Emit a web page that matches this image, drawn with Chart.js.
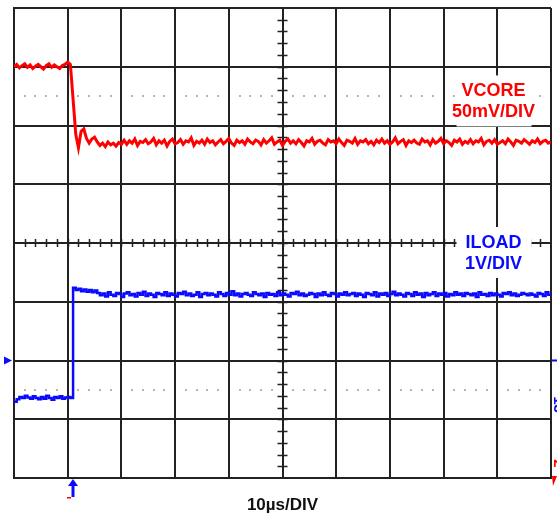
<!DOCTYPE html>
<html>
<head>
<meta charset="utf-8">
<script src="https://cdn.jsdelivr.net/npm/chart.js@4.4.1/dist/chart.umd.min.js"></script>
<style>
  html, body { margin: 0; padding: 0; background: #fff; }
  canvas { display: block; }
</style>
</head>
<body>
<canvas id="scope" width="557" height="517"></canvas>
<script>
// Scope screen: 10 horizontal divisions, 8 vertical divisions (center = 0)
const sampleStep = 0.05; // divisions per sample
const triggerDiv = 1.1;  // trigger marker position (div)

// VCORE trace (div), 50mV/DIV
const vcore = [
  3.00, 3.04, 2.98, 3.02, 3.05, 2.99, 3.03, 2.97, 3.01, 3.04,
  3.00, 2.96, 3.02, 3.05, 2.99, 3.03, 3.00, 2.97, 3.02, 3.04,
  3.08, 3.04, 2.45, 1.85, 1.62, 1.90, 1.94, 1.78, 1.70, 1.77,
  1.80, 1.72, 1.66, 1.70, 1.64, 1.72, 1.67, 1.70, 1.65, 1.71,
  1.68,
  1.75, 1.68, 1.74, 1.70, 1.77, 1.66, 1.73, 1.71, 1.76, 1.69,
  1.72, 1.78, 1.67, 1.74, 1.70, 1.75, 1.65, 1.73, 1.77, 1.69,
  1.71, 1.76, 1.68, 1.74, 1.72, 1.79, 1.66, 1.73, 1.70, 1.75,
  1.68, 1.77, 1.71, 1.74, 1.67, 1.72, 1.76, 1.69, 1.73, 1.78,
  1.70, 1.66, 1.75, 1.71, 1.74, 1.68, 1.77, 1.72, 1.69, 1.75,
  1.73, 1.67, 1.76, 1.70, 1.74, 1.79, 1.68, 1.72, 1.75, 1.66,
  1.73, 1.77, 1.70, 1.74, 1.69, 1.76, 1.71, 1.65, 1.74, 1.72,
  1.78, 1.68, 1.73, 1.75, 1.70, 1.67, 1.76, 1.72, 1.74, 1.69,
  1.77, 1.71, 1.66, 1.75, 1.73, 1.70, 1.78, 1.68, 1.74, 1.72,
  1.76, 1.69, 1.73, 1.67, 1.75, 1.71, 1.77, 1.70, 1.74, 1.68,
  1.72, 1.79, 1.69, 1.73, 1.76, 1.66, 1.74, 1.71, 1.75, 1.70,
  1.68, 1.77, 1.72, 1.74, 1.67, 1.76, 1.70, 1.73, 1.78, 1.69,
  1.74, 1.71, 1.66, 1.75, 1.72, 1.77, 1.68, 1.73, 1.70, 1.76,
  1.69, 1.74, 1.72, 1.78, 1.67, 1.73, 1.75, 1.70, 1.76, 1.68,
  1.71, 1.74, 1.69, 1.77, 1.72, 1.66, 1.75, 1.73, 1.70, 1.76,
  1.72, 1.68, 1.74, 1.71, 1.77, 1.69, 1.73, 1.75, 1.70, 1.72
];

// ILOAD trace (div), 1V/DIV
const iload = [
  -2.70, -2.66, -2.62, -2.64, -2.60, -2.63, -2.65, -2.61, -2.64, -2.66,
  -2.62, -2.65, -2.60, -2.64, -2.67, -2.62, -2.64, -2.61, -2.65, -2.63,
  -2.62, -2.64, -0.76, -0.80, -0.78, -0.82, -0.79, -0.83, -0.80, -0.84,
  -0.81,
  -0.85, -0.89, -0.86, -0.91, -0.84, -0.88, -0.90, -0.85, -0.87, -0.92,
  -0.86, -0.84, -0.89, -0.87, -0.91, -0.85, -0.88, -0.83, -0.90, -0.86,
  -0.88, -0.92, -0.85, -0.87, -0.89, -0.84, -0.90, -0.86, -0.88, -0.91,
  -0.85, -0.87, -0.83, -0.89, -0.86, -0.90, -0.88, -0.84, -0.92, -0.87,
  -0.85, -0.89, -0.86, -0.88, -0.91, -0.84, -0.87, -0.90, -0.85, -0.88,
  -0.82, -0.89, -0.86, -0.91, -0.87, -0.85, -0.88, -0.90, -0.84, -0.87,
  -0.89, -0.86, -0.92, -0.85, -0.88, -0.87, -0.90, -0.84, -0.89, -0.86,
  -0.88, -0.91, -0.85, -0.87, -0.83, -0.89, -0.86, -0.90, -0.88, -0.85,
  -0.87, -0.92, -0.86, -0.89, -0.84, -0.88, -0.90, -0.85, -0.87, -0.91,
  -0.86, -0.88, -0.84, -0.89, -0.87, -0.85, -0.90, -0.86, -0.88, -0.92,
  -0.85, -0.87, -0.89, -0.84, -0.91, -0.86, -0.88, -0.85, -0.90, -0.87,
  -0.83, -0.89, -0.86, -0.88, -0.91, -0.85, -0.87, -0.90, -0.84, -0.88,
  -0.86, -0.92, -0.85, -0.89, -0.87, -0.84, -0.90, -0.86, -0.88, -0.85,
  -0.91, -0.87, -0.89, -0.84, -0.88, -0.86, -0.90, -0.85, -0.87, -0.89,
  -0.86, -0.92, -0.84, -0.88, -0.87, -0.90, -0.85, -0.89, -0.86, -0.88,
  -0.91, -0.85, -0.87, -0.84, -0.89, -0.86, -0.90, -0.88, -0.85, -0.87,
  -0.89, -0.86, -0.88, -0.91, -0.85, -0.87, -0.90, -0.84, -0.88, -0.86
];

const traceLabels = [
  { lines: ['VCORE', '50mV/DIV'], color: '#ff0000', x: 8.93, y: 2.58 },
  { lines: ['ILOAD', '1V/DIV'], color: '#0a0aff', x: 8.93, y: 0 }
];
const timeLabel = '10\u00b5s/DIV';

const toPoints = arr => arr.map((v, i) => ({ x: i * sampleStep, y: v }));

const gridColor = '#222';

// Extra scope decorations: center graticule ticks, dotted markers, labels
const scopeDecor = {
  id: 'scopeDecor',
  beforeDatasetsDraw(chart) {
    const { ctx, scales: { x, y } } = chart;
    const x0 = x.getPixelForValue(5), y0 = y.getPixelForValue(0);
    ctx.save();
    ctx.strokeStyle = gridColor;
    ctx.lineWidth = 1.5;
    ctx.beginPath();
    for (let i = 1; i < 50; i++) {
      const px = Math.round(x.getPixelForValue(i * 0.2)) + 0.5;
      ctx.moveTo(px, y0 - 4); ctx.lineTo(px, y0 + 4);
    }
    for (let i = 1; i < 40; i++) {
      const py = Math.round(y.getPixelForValue(-4 + i * 0.2)) + 0.5;
      ctx.moveTo(x0 - 5, py); ctx.lineTo(x0 + 5, py);
    }
    ctx.stroke();
    // dotted reference levels at +/-2.5 div
    ctx.fillStyle = '#b4b4b4';
    [2.5, -2.5].forEach(lv => {
      const py = Math.round(y.getPixelForValue(lv));
      for (let d = 0; d < 10; d++) {
        for (let k = 1; k <= 4; k++) {
          const px = Math.round(x.getPixelForValue(d + k * 0.2));
          ctx.fillRect(px - 1, py - 1, 2, 2);
        }
      }
    });
    ctx.restore();
  },
  afterDatasetsDraw(chart) {
    const { ctx, scales: { x, y } } = chart;
    ctx.save();
    ctx.textAlign = 'center';
    ctx.textBaseline = 'middle';
    ctx.font = 'bold 18px "Liberation Sans", Arial, sans-serif';
    traceLabels.forEach(lb => {
      const cx = x.getPixelForValue(lb.x), cy = y.getPixelForValue(lb.y);
      ctx.fillStyle = '#fff';
      ctx.fillRect(cx - 37, cy - 16, 75, 51);
      ctx.fillStyle = lb.color;
      lb.lines.forEach((t, i) => ctx.fillText(t, cx, cy + i * 21));
    });
    // time base label
    ctx.fillStyle = '#111';
    ctx.font = 'bold 17px "Liberation Sans", Arial, sans-serif';
    ctx.fillText(timeLabel, x.getPixelForValue(5), 505);

    // trigger arrow under the screen
    const tx = Math.round(x.getPixelForValue(triggerDiv));
    const bottom = y.getPixelForValue(-4);
    ctx.fillStyle = '#0a0aff';
    ctx.beginPath();
    ctx.moveTo(tx, bottom + 1);
    ctx.lineTo(tx - 5, bottom + 8);
    ctx.lineTo(tx + 5, bottom + 8);
    ctx.closePath();
    ctx.fill();
    ctx.fillRect(tx - 1.5, bottom + 7, 3, 12);
    ctx.fillStyle = '#ff0000';
    ctx.fillRect(tx - 6, bottom + 19, 4, 1.5);

    // channel ground markers
    const gy = y.getPixelForValue(-2);
    const left = x.getPixelForValue(0), right = x.getPixelForValue(10);
    ctx.fillStyle = '#0a0aff';
    ctx.beginPath();
    ctx.moveTo(left - 2, gy);
    ctx.lineTo(left - 10, gy - 4);
    ctx.lineTo(left - 10, gy + 4);
    ctx.closePath();
    ctx.fill();
    ctx.fillRect(right + 1, gy - 1, 5, 2);
    // clipped channel tags at right edge
    ctx.beginPath();
    ctx.rect(right + 1, 0, 10, chart.height);
    ctx.clip();
    ctx.font = 'bold 15px "Liberation Sans", Arial, sans-serif';
    ctx.translate(right + 7, 0);
    ctx.rotate(Math.PI / 2);
    ctx.textAlign = 'center';
    ctx.fillStyle = '#0a0aff';
    ctx.fillText('13', y.getPixelForValue(-2.75), 0);
    ctx.fillStyle = '#ff0000';
    ctx.fillText('2', y.getPixelForValue(-3.75), 0);
    ctx.restore();
    ctx.save();
    ctx.fillStyle = '#ff0000';
    ctx.beginPath();
    ctx.moveTo(right + 1, bottom - 2);
    ctx.lineTo(right + 6, bottom - 2);
    ctx.lineTo(right + 2, bottom + 8);
    ctx.closePath();
    ctx.fill();
    ctx.restore();
  }
};

new Chart(document.getElementById('scope').getContext('2d'), {
  type: 'line',
  data: {
    datasets: [
      {
        label: 'VCORE',
        data: toPoints(vcore),
        borderColor: '#ff0000',
        borderWidth: 3,
        pointRadius: 0,
        tension: 0
      },
      {
        label: 'ILOAD',
        data: toPoints(iload),
        borderColor: '#0a0aff',
        borderWidth: 2.5,
        pointRadius: 0,
        stepped: true
      }
    ]
  },
  options: {
    responsive: false,
    animation: false,
    events: [],
    layout: { padding: { left: 14, top: 8, right: 6, bottom: 39 } },
    plugins: { legend: { display: false }, tooltip: { enabled: false } },
    scales: {
      x: {
        type: 'linear', min: 0, max: 10,
        ticks: { display: false, stepSize: 1 },
        grid: { color: gridColor, lineWidth: 2, drawTicks: false },
        border: { color: gridColor, width: 2 }
      },
      y: {
        type: 'linear', min: -4, max: 4,
        ticks: { display: false, stepSize: 1 },
        grid: { color: gridColor, lineWidth: 2, drawTicks: false },
        border: { color: gridColor, width: 2 }
      }
    }
  },
  plugins: [scopeDecor]
});
</script>
</body>
</html>
